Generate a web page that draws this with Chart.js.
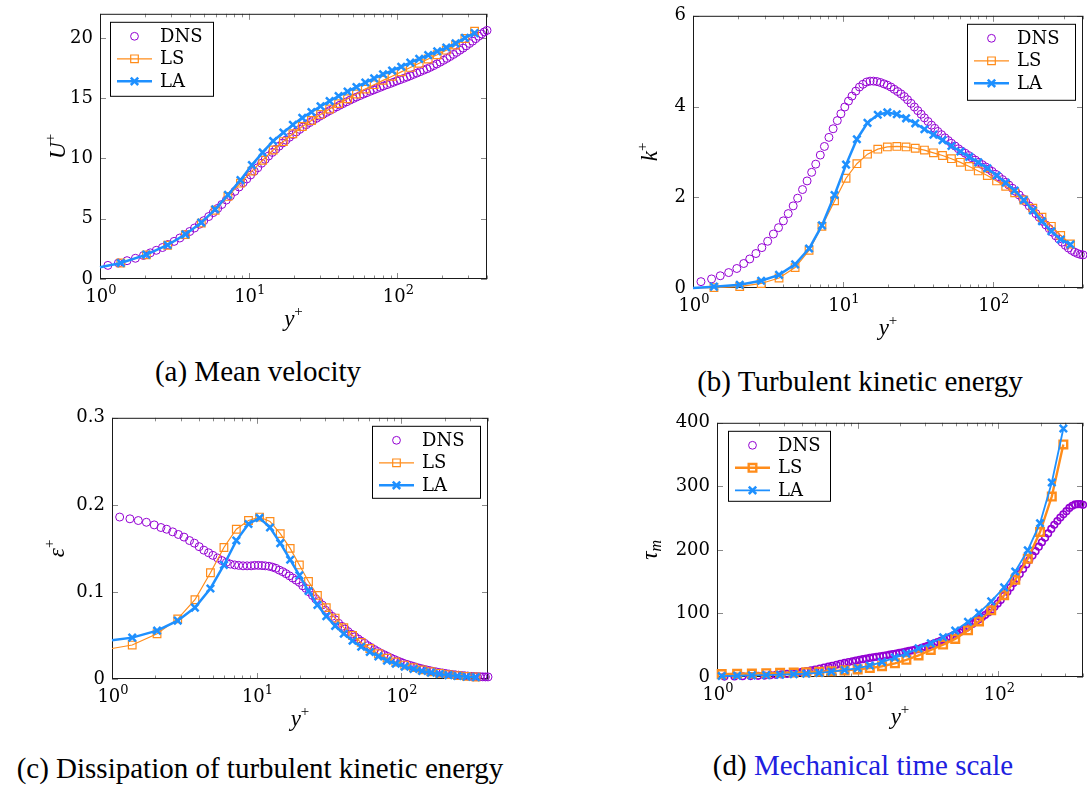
<!DOCTYPE html>
<html>
<head>
<meta charset="utf-8">
<script src="https://cdn.jsdelivr.net/npm/chart.js@4.4.0/dist/chart.umd.min.js"></script>
<style>
  html, body { margin: 0; padding: 0; background: #fff; overflow: hidden; }
  body { width: 1087px; height: 787px; position: relative; }
  canvas { position: absolute; }
  .cap { position: absolute; font-family: 'Liberation Serif', serif; font-size: 29px; color: #000;
         white-space: nowrap; transform: translate(-50%, -50%); }
</style>
</head>
<body>
<canvas id="cU" width="454" height="341" style="left:43px;top:-4px"></canvas>
<canvas id="cK" width="458" height="348" style="left:635px;top:-2px"></canvas>
<canvas id="cE" width="456" height="337" style="left:42px;top:400px"></canvas>
<canvas id="cT" width="458" height="330" style="left:635px;top:405px"></canvas>

<div class="cap" style="left:258px;top:371px">(a) Mean velocity</div>
<div class="cap" style="left:860px;top:381px">(b) Turbulent kinetic energy</div>
<div class="cap" style="left:260px;top:768px">(c) Dissipation of turbulent kinetic energy</div>
<div class="cap" style="left:863px;top:765px">(d) <span style="color:#2020e0">Mechanical time scale</span></div>

<script>
// ---- data ----
const seriesNames = ['DNS', 'LS', 'LA'];
const xTickLabels = [1, 10, 100];

// DNS wall distance y+ (shared by all four panels)
const dnsY = [1.13,1.33,1.52,1.73,1.96,2.18,2.39,2.63,2.88,3.15,
  3.44,3.72,4.01,4.32,4.66,4.99,5.38,5.77,6.19,6.59,
  7.07,7.53,8.07,8.61,9.18,9.7,10.3,10.9,11.5,12.2,
  12.9,13.6,14.4,15.2,16.0,16.9,17.8,18.8,19.8,20.9,
  22.0,23.2,24.4,25.7,27.0,28.5,30.0,31.6,33.3,35.0,
  37,39,41,43,45.5,48,50.5,53,56,59,
  62,65.5,69,72.5,76.5,80.5,85,89.5,94,99,
  104,110,116,122,128,135,142,150,158,166,
  175,184,194,204,215,226,238,250,263,276,
  290,305,320,336,352,368,384,400];

const dnsU = [1.13,1.33,1.52,1.72,1.95,2.17,2.38,2.61,2.86,3.12,
  3.40,3.67,3.94,4.23,4.54,4.84,5.18,5.51,5.86,6.18,
  6.55,6.89,7.27,7.63,7.99,8.30,8.63,8.94,9.23,9.60,
  9.92,10.20,10.50,10.77,11.02,11.28,11.52,11.76,11.98,12.20,
  12.41,12.61,12.80,12.98,13.15,13.33,13.50,13.66,13.82,13.97,
  14.13,14.28,14.42,14.55,14.70,14.84,14.97,15.09,15.22,15.34,
  15.45,15.57,15.68,15.79,15.90,16.01,16.12,16.22,16.32,16.43,
  16.53,16.64,16.75,16.86,16.97,17.08,17.20,17.32,17.44,17.56,
  17.70,17.84,17.99,18.14,18.30,18.46,18.63,18.80,18.98,19.15,
  19.34,19.54,19.73,19.94,20.14,20.33,20.50,20.62];

const dnsK = [0.14,0.20,0.27,0.34,0.43,0.54,0.64,0.76,0.89,1.03,
  1.19,1.33,1.48,1.64,1.81,1.98,2.17,2.36,2.55,2.73,
  2.93,3.12,3.32,3.51,3.69,3.84,3.99,4.12,4.23,4.34,
  4.43,4.49,4.54,4.56,4.56,4.55,4.53,4.50,4.47,4.43,
  4.38,4.33,4.28,4.22,4.15,4.07,3.99,3.91,3.83,3.75,
  3.67,3.59,3.52,3.45,3.38,3.31,3.25,3.19,3.13,3.07,
  3.02,2.97,2.92,2.87,2.82,2.77,2.72,2.67,2.62,2.57,
  2.51,2.45,2.39,2.33,2.27,2.20,2.13,2.05,1.97,1.90,
  1.81,1.73,1.64,1.56,1.47,1.39,1.31,1.23,1.15,1.08,
  1.01,0.94,0.88,0.83,0.79,0.76,0.74,0.73];

const dnsEps = [0.186,0.184,0.182,0.180,0.177,0.174,0.172,0.169,0.166,0.163,
  0.159,0.156,0.152,0.148,0.145,0.142,0.139,0.136,0.134,0.132,
  0.131,0.1305,0.130,0.130,0.130,0.1305,0.1305,0.1303,0.130,0.1295,
  0.1285,0.1272,0.125,0.1232,0.121,0.1185,0.116,0.1135,0.111,0.107,
  0.104,0.100,0.096,0.092,0.089,0.085,0.079,0.0755,0.072,0.068,
  0.064,0.0605,0.0575,0.0545,0.0515,0.0485,0.046,0.0435,0.041,0.0383,
  0.0362,0.0338,0.0316,0.0297,0.0278,0.026,0.0242,0.0225,0.021,0.0195,
  0.0181,0.0168,0.0156,0.0145,0.0134,0.0124,0.0114,0.0105,0.0097,0.0089,
  0.0082,0.0075,0.0069,0.0063,0.0057,0.0052,0.0048,0.0044,0.0040,0.0037,
  0.0034,0.0031,0.0029,0.0027,0.0026,0.0025,0.0024,0.0024];

const dnsTau = [0.7,0.9,1.2,1.5,1.9,2.3,2.8,3.4,4.1,4.9,
  5.9,6.9,8.0,9.2,10.5,11.8,13.3,14.8,16.3,17.7,
  19.3,20.7,22.2,23.5,24.8,25.9,27.0,28.0,29.0,30.0,
  30.9,31.7,32.6,33.4,34.2,35.1,36.0,36.9,37.9,38.9,
  39.9,41.0,42.0,43.0,44.0,45.7,47.5,49.2,51.0,52.8,
  55.0,57.0,59.0,60.9,63.3,65.6,68.0,70.5,74.0,77.0,
  80.0,83.5,87.0,90.5,94.0,97.5,101.5,106.0,110.5,115.5,
  121,128,134,141,148,155,162,170,177,184,
  191,198,205,212,219,226,233,239.5,245.5,251,
  256,261,266,269.5,271.5,272,272,271];

// model grid for panels (a)-(c); first point (y+ = 1) carries no mark
const modelY = [1.0,1.38,2.05,2.85,3.75,4.8,5.95,7.25,8.8,10.5,
  12.4,14.6,17.1,19.8,22.9,26.4,30.4,35,40.2,46.2,
  53,60.8,69.7,80,92,106,122,140,161,185,
  213,246,284,330];

const lsU = [0.98,1.33,2.0,2.8,3.68,4.64,5.7,6.85,7.95,8.95,
  9.85,10.7,11.4,12.05,12.65,13.15,13.65,14.1,14.55,14.95,
  15.35,15.75,16.12,16.48,16.82,17.18,17.55,17.9,18.25,18.6,
  18.98,19.4,19.95,20.55];
const laU = [0.98,1.33,2.02,2.82,3.7,4.68,5.78,6.98,8.2,9.45,
  10.5,11.45,12.15,12.8,13.37,13.85,14.33,14.76,15.18,15.55,
  15.93,16.3,16.64,16.98,17.29,17.61,17.95,18.26,18.57,18.88,
  19.2,19.55,20.0,20.4];

const lsK = [0.0,0.01,0.03,0.10,0.22,0.45,0.83,1.36,1.92,2.42,
  2.74,2.95,3.06,3.11,3.12,3.11,3.08,3.04,2.98,2.92,
  2.85,2.77,2.68,2.58,2.48,2.36,2.24,2.10,1.94,1.76,
  1.56,1.36,1.16,0.97];
const laK = [0.0,0.03,0.07,0.16,0.29,0.52,0.87,1.38,2.05,2.72,
  3.28,3.64,3.82,3.87,3.83,3.74,3.63,3.50,3.38,3.26,
  3.13,3.01,2.89,2.77,2.64,2.48,2.32,2.15,1.94,1.71,
  1.47,1.25,1.07,0.96];

const lsEps = [0.035,0.039,0.052,0.069,0.091,0.122,0.151,0.172,0.182,0.186,
  0.181,0.167,0.150,0.131,0.112,0.096,0.082,0.070,0.059,0.050,
  0.042,0.035,0.029,0.024,0.0195,0.016,0.013,0.0105,0.0083,0.0065,
  0.005,0.0039,0.003,0.0023];
const laEps = [0.0445,0.0475,0.0555,0.067,0.082,0.104,0.131,0.159,0.178,0.185,
  0.174,0.156,0.137,0.119,0.101,0.085,0.072,0.061,0.052,0.044,
  0.037,0.031,0.026,0.021,0.0175,0.0142,0.0115,0.0092,0.0073,0.0057,
  0.0044,0.0034,0.0026,0.0021];

// model grid for panel (d)
const modelYd = [1.08,1.39,1.77,2.24,2.81,3.51,4.31,5.33,6.51,8.08,
  10,12.2,14.9,18.4,22.2,27.1,33.1,40.5,49.4,60.9,
  72.9,89,110,132,162,198,240,290];
const lsTau = [4.5,5,5.5,6,6.5,7,7.6,8.3,9.2,10.4,
  12,14,17,21.5,27,34,42.5,51,60,73.5,
  87.5,105,128.7,153,186,228,284,366];
const laTau = [1.5,2,2.5,3,3.6,4.3,5.2,6.5,8.3,10.8,
  14,18,23.5,30.5,36.7,45,53,62.5,73,87,
  101,119,141,166,199.5,242,306,391];

// ---- styling ----
const PURPLE = '#9400d3', ORANGE = '#ff8c1a', BLUE = '#1e90ff';
const NUM_FONT = '"DejaVu Serif"';
const MATH_FONT = '"Liberation Serif"';

function pts(xs, ys) { return xs.map((x, i) => ({ x: x, y: ys[i] })); }

function drawMath(ctx, parts, x, y) {
    let w = 0;
    parts.forEach(p => { ctx.font = p.font; p.w = ctx.measureText(p.t).width; w += p.w; });
    let cx = x - w / 2;
    parts.forEach(p => { ctx.font = p.font; ctx.fillText(p.t, cx, y + (p.dy || 0)); cx += p.w; });
}

function drawMarker(ctx, kind, x, y, color, lw) {
    ctx.strokeStyle = color;
    ctx.lineWidth = lw;
    ctx.beginPath();
    if (kind === 'circle') {
        ctx.arc(x, y, 3.9, 0, Math.PI * 2);
    } else if (kind === 'rect') {
        ctx.rect(x - 3.8, y - 3.8, 7.6, 7.6);
    } else {
        ctx.moveTo(x - 3.7, y - 3.7); ctx.lineTo(x + 3.7, y + 3.7);
        ctx.moveTo(x - 3.7, y + 3.7); ctx.lineTo(x + 3.7, y - 3.7);
    }
    ctx.stroke();
}

const deco = {
    id: 'deco',
    beforeDatasetsDraw(chart, args, o) {
        const ctx = chart.ctx, a = chart.chartArea;
        const xs = chart.scales.x, ys = chart.scales.y;
        ctx.save();
        ctx.strokeStyle = '#8a8a8a';
        ctx.lineWidth = 1;
        ctx.beginPath();
        xTickLabels.forEach(d => {
            for (let m = 1; m <= 9; m++) {
                const v = d * m;
                if (v > xs.max) break;
                const px = Math.round(xs.getPixelForValue(v)) + 0.5;
                const len = m === 1 ? 6 : 3.5;
                ctx.moveTo(px, a.bottom); ctx.lineTo(px, a.bottom - len);
                ctx.moveTo(px, a.top); ctx.lineTo(px, a.top + len);
            }
        });
        ys.ticks.forEach(t => {
            const py = Math.round(ys.getPixelForValue(t.value)) + 0.5;
            ctx.moveTo(a.left, py); ctx.lineTo(a.left + 6, py);
            ctx.moveTo(a.right, py); ctx.lineTo(a.right - 6, py);
        });
        ctx.stroke();
        ctx.strokeStyle = '#1a1a1a';
        ctx.strokeRect(a.left + 0.5, a.top + 0.5, a.right - a.left - 1, a.bottom - a.top - 1);
        ctx.restore();
    },
    afterDatasetsDraw(chart, args, o) {
        const ctx = chart.ctx, a = chart.chartArea, xs = chart.scales.x;
        ctx.save();
        ctx.fillStyle = '#000';
        ctx.textBaseline = 'alphabetic';
        // x tick labels 10^n
        xTickLabels.forEach(v => {
            const px = xs.getPixelForValue(v);
            drawMath(ctx, [
                { t: '10', font: '18px ' + NUM_FONT },
                { t: String(Math.round(Math.log10(v))), font: '13px ' + NUM_FONT, dy: -8 }
            ], px + 1, a.bottom + 23);
        });
        // x title
        drawMath(ctx, [
            { t: 'y', font: 'italic 23px ' + MATH_FONT },
            { t: '+', font: '15px ' + MATH_FONT, dy: -10 }
        ], (a.left + a.right) / 2, a.bottom + 47);
        // y title
        ctx.save();
        ctx.translate(a.left - o.titleGap, (a.top + a.bottom) / 2);
        ctx.rotate(-Math.PI / 2);
        drawMath(ctx, o.yTitle, 0, 7);
        ctx.restore();

        // legend
        const L = o.legend;
        const bx = L.side === 'left' ? a.left + L.dx : a.right - L.dx - L.w;
        const by = a.top + L.dy;
        ctx.fillStyle = '#fff';
        ctx.fillRect(bx, by, L.w, L.h);
        ctx.strokeStyle = '#000';
        ctx.lineWidth = 1;
        ctx.strokeRect(bx + 0.5, by + 0.5, L.w, L.h);
        L.items.forEach((it, i) => {
            const yy = by + 14.5 + i * 22.5;
            if (it.line) {
                ctx.strokeStyle = it.color;
                ctx.lineWidth = it.line;
                ctx.beginPath();
                ctx.moveTo(bx + 7, yy); ctx.lineTo(bx + 42, yy);
                ctx.stroke();
            }
            drawMarker(ctx, it.marker, bx + 24.5, yy, it.color, it.mw);
            ctx.fillStyle = '#000';
            ctx.font = '18px ' + NUM_FONT;
            ctx.textBaseline = 'middle';
            ctx.fillText(seriesNames[i], bx + 50, yy + 1);
        });
        ctx.restore();
    }
};

function hideFirst(r) { return c => (c.dataIndex === 0 ? 0 : r); }

function makeDatasets(dnsVals, gx, lsVals, laVals, heavyLS) {
    return [{
        label: seriesNames[0], data: pts(dnsY, dnsVals), order: 3, clip: false,
        pointStyle: 'circle', pointRadius: heavyLS ? 3.3 : 4.0,
        pointBorderWidth: heavyLS ? 1.6 : 1, borderColor: PURPLE,
        backgroundColor: 'rgba(0,0,0,0)', showLine: false
    }, {
        label: seriesNames[1], data: pts(gx, lsVals), order: 2, clip: false, showLine: true,
        borderColor: ORANGE, borderWidth: heavyLS ? 2.4 : 1.2, backgroundColor: 'rgba(0,0,0,0)',
        pointStyle: 'rect', pointRadius: heavyLS ? 5.4 : hideFirst(5.4),
        pointBorderWidth: heavyLS ? 2.4 : 1.2, tension: 0
    }, {
        label: seriesNames[2], data: pts(gx, laVals), order: 1, clip: false, showLine: true,
        borderColor: BLUE, borderWidth: heavyLS ? 1.8 : 2.5, backgroundColor: 'rgba(0,0,0,0)',
        pointStyle: 'crossRot', pointRadius: heavyLS ? 5.2 : hideFirst(5.2),
        pointBorderWidth: 2.5, tension: 0
    }];
}

function legendItems(heavyLS) {
    return [
        { marker: 'circle', color: PURPLE, mw: 1, line: 0 },
        { marker: 'rect', color: ORANGE, mw: heavyLS ? 2.4 : 1.2, line: heavyLS ? 2.4 : 1.2 },
        { marker: 'cross', color: BLUE, mw: 2.5, line: heavyLS ? 1.8 : 2.5 }
    ];
}

function makeChart(id, cfg) {
    return new Chart(document.getElementById(id), {
        type: 'scatter',
        data: { datasets: cfg.datasets },
        options: {
            responsive: false,
            animation: false,
            events: [],
            layout: { padding: { top: 14, right: 10, left: 0, bottom: 0 } },
            plugins: {
                legend: { display: false },
                tooltip: { enabled: false },
                deco: cfg.deco
            },
            scales: {
                x: {
                    type: 'logarithmic', min: 1, max: 400,
                    grid: { display: false, drawTicks: false },
                    border: { display: false },
                    ticks: { display: false },
                    afterFit: s => { s.height = 58; }
                },
                y: {
                    min: 0, max: cfg.yMax,
                    grid: { display: false, drawTicks: false },
                    border: { display: false },
                    ticks: {
                        stepSize: cfg.yStep, includeBounds: false, padding: 7,
                        color: '#000', font: { family: 'DejaVu Serif', size: 18 }
                    },
                    afterFit: s => { s.width = cfg.yWidth; }
                }
            }
        },
        plugins: [deco]
    });
}

const italic = () => 'italic 23px ' + MATH_FONT;
const sup = '15px ' + MATH_FONT;

makeChart('cU', {
    yMax: 22, yStep: 5, yWidth: 57,
    datasets: makeDatasets(dnsU, modelY, lsU, laU, false),
    deco: {
        titleGap: 42,
        yTitle: [{ t: 'U', font: italic() }, { t: '+', font: sup, dy: -10 }],
        legend: { side: 'left', dx: 10, dy: 8, w: 103, h: 74, items: legendItems(false) }
    }
});

makeChart('cK', {
    yMax: 6, yStep: 2, yWidth: 58,
    datasets: makeDatasets(dnsK, modelY, lsK, laK, false),
    deco: {
        titleGap: 43,
        yTitle: [{ t: 'k', font: italic() }, { t: '+', font: sup, dy: -10 }],
        legend: { side: 'right', dx: 8, dy: 8, w: 108, h: 76, items: legendItems(false) }
    }
});

makeChart('cE', {
    yMax: 0.3, yStep: 0.1, yWidth: 70,
    datasets: makeDatasets(dnsEps, modelY, lsEps, laEps, false),
    deco: {
        titleGap: 55,
        yTitle: [{ t: 'ε', font: italic() }, { t: '+', font: sup, dy: -10 }],
        legend: { side: 'right', dx: 8, dy: 8, w: 108, h: 72, items: legendItems(false) }
    }
});

makeChart('cT', {
    yMax: 400, yStep: 100, yWidth: 82,
    datasets: makeDatasets(dnsTau, modelYd, lsTau, laTau, true),
    deco: {
        titleGap: 67,
        yTitle: [{ t: 'τ', font: italic() }, { t: 'm', font: 'italic 16px ' + MATH_FONT, dy: 4 }],
        legend: { side: 'left', dx: 11, dy: 8, w: 102, h: 70, items: legendItems(true) }
    }
});
</script>
</body>
</html>
